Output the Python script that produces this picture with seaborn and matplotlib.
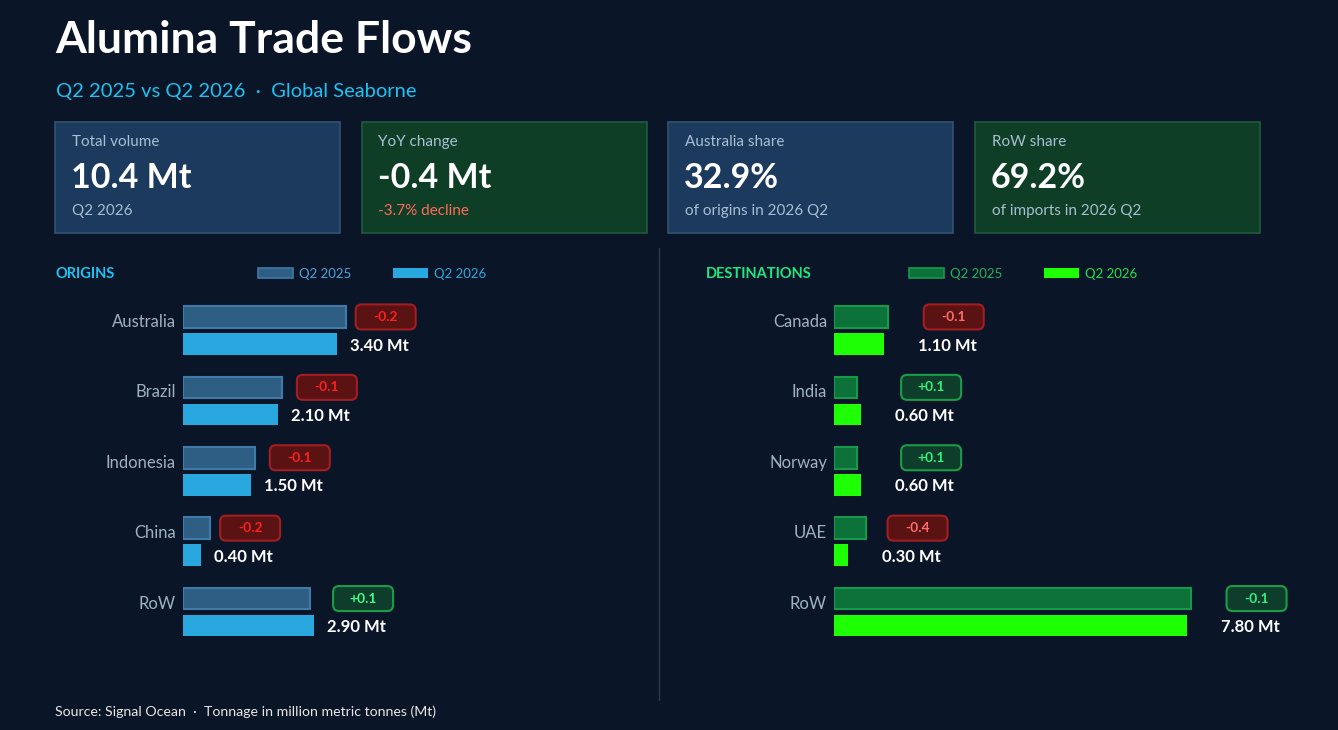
import numpy as np
import pandas as pd
import matplotlib
matplotlib.use("Agg")
import matplotlib.pyplot as plt
import seaborn as sns
from matplotlib.patches import FancyBboxPatch, Rectangle
from matplotlib.lines import Line2D

# data
origins = ["Australia", "Brazil", "Indonesia", "China", "RoW"]
origins_2025 = [3.6, 2.2, 1.6, 0.6, 2.8]
origins_2026 = [3.4, 2.1, 1.5, 0.4, 2.9]

destinations = ["Canada", "India", "Norway", "UAE", "RoW"]
dest_2025 = [1.2, 0.5, 0.5, 0.7, 7.9]
dest_2026 = [1.1, 0.6, 0.6, 0.3, 7.8]

quarters = ["Q2 2025", "Q2 2026"]

kpi_labels = ["Total volume", "YoY change", "Australia share", "RoW share"]
kpi_values = ["10.4 Mt", "-0.4 Mt", "32.9%", "69.2%"]
kpi_notes = ["Q2 2026", "-3.7% decline", "of origins in 2026 Q2", "of imports in 2026 Q2"]

# style
W, H = 1338, 730
BG = "#0b1528"
PX_PER_MT = 45.2
ROW_PX = 70.4
ROW0_PX = 330.5
AX_TOP, AX_BOT = 290, 650

sns.set_theme(style="white")
plt.rcParams["font.family"] = ["Lato", "DejaVu Sans"]


def fx(px):
    return px / W


def fy(py):
    return 1 - py / H


fig = plt.figure(figsize=(W / 100, H / 100), dpi=100)
fig.patch.set_facecolor(BG)

# header
fig.text(fx(55), fy(53), "Alumina Trade Flows", color="white", fontsize=32,
         fontweight="bold", va="baseline")
fig.text(fx(56), fy(97), "Q2 2025 vs Q2 2026  \u00b7  Global Seaborne", color="#1cc3f2",
         fontsize=14.5, va="baseline")

# kpi cards
card_fill = ["#1c3a5e", "#0e3f26", "#1c3a5e", "#0e3f26"]
card_edge = ["#34506e", "#1f5a3d", "#34506e", "#1f5a3d"]
note_colors = ["#a8bed3", "#ff6a5a", "#a8bed3", "#a8bed3"]
for k in range(4):
    left = 55 + k * 306.5
    fig.add_artist(Rectangle((fx(left), fy(233)), 285 / W, 111 / H, transform=fig.transFigure,
                             facecolor=card_fill[k], edgecolor=card_edge[k], linewidth=1.2))
    fig.text(fx(left + 17), fy(146), kpi_labels[k], color="#a8bed3", fontsize=11, va="baseline")
    fig.text(fx(left + 16), fy(188), kpi_values[k], color="white", fontsize=24.5,
             fontweight="bold", va="baseline")
    fig.text(fx(left + 17), fy(215), kpi_notes[k], color=note_colors[k], fontsize=11,
             va="baseline")

# divider
fig.add_artist(Line2D([fx(659), fx(659)], [fy(248), fy(700)], transform=fig.transFigure,
                      color="#2b3b4e", linewidth=1))

fig.text(fx(55), fy(716), "Source: Signal Ocean  \u00b7  Tonnage in million metric tonnes (Mt)",
         color="#e6e6e6", fontsize=10.2, va="baseline")


def panel(left_px, right_px, names, v25, v26, title, title_x, title_color, fills, edge25,
          legend_x, legend_colors, label_off_px, badge_text_colors):
    ax = fig.add_axes([fx(left_px), fy(AX_BOT), (right_px - left_px) / W, (AX_BOT - AX_TOP) / H])
    df = pd.DataFrame({
        "name": names * 2,
        "value": v25 + v26,
        "quarter": [quarters[0]] * len(names) + [quarters[1]] * len(names),
    })
    sns.barplot(data=df, y="name", x="value", hue="quarter", hue_order=quarters,
                palette=fills, orient="h", width=0.77, gap=0.2, saturation=1,
                errorbar=None, legend=False, ax=ax)
    for p in ax.containers[0]:
        p.set_edgecolor(edge25)
        p.set_linewidth(1.5)
    for p in ax.containers[1]:
        p.set_linewidth(0)

    ax.set_xlim(0, (right_px - left_px) / PX_PER_MT)
    ax.set_ylim((AX_BOT - ROW0_PX) / ROW_PX, (AX_TOP - ROW0_PX) / ROW_PX)
    ax.set_facecolor("none")
    for s in ax.spines.values():
        s.set_visible(False)
    ax.set_xticks([])
    ax.set_yticks(np.arange(len(names)) - 0.1925 + 3.5 / ROW_PX)
    ax.set_yticklabels(names)
    ax.tick_params(axis="y", length=0, pad=5, labelsize=12, labelcolor="#9fb2c4")
    ax.set_xlabel("")
    ax.set_ylabel("")

    # value labels and change badges
    bw = 60 / PX_PER_MT
    bh = 25 / ROW_PX
    for i, (a, b) in enumerate(zip(v25, v26)):
        lx = b + label_off_px / PX_PER_MT
        ax.text(lx, i + 0.1925 + 1.5 / ROW_PX, f"{b:.2f} Mt", color="white", fontsize=12,
                fontweight="bold", va="center", ha="left")
        delta = b - a
        good = delta / a >= -0.02
        if good:
            fc, ec, tc = "#0f3d2c", "#1c9c45", badge_text_colors[1]
        else:
            fc, ec, tc = "#5a1212", "#a11e22", badge_text_colors[0]
        bx = lx + 6 / PX_PER_MT
        by = i - 0.1925
        ax.add_patch(FancyBboxPatch((bx, by - bh / 2), bw, bh,
                                    boxstyle=f"round,pad=0,rounding_size={6 / PX_PER_MT}",
                                    mutation_aspect=PX_PER_MT / ROW_PX,
                                    facecolor=fc, edgecolor=ec, linewidth=1.5, clip_on=False))
        ax.text(bx + bw / 2, by, f"{delta:+.1f}", color=tc, fontsize=10,
                fontweight="bold", ha="center", va="center")

    # section title and legend
    fig.text(fx(title_x), fy(278), title, color=title_color, fontsize=10.5,
             fontweight="bold", va="baseline")
    for j in range(2):
        x0 = legend_x + j * 135
        fig.add_artist(Rectangle((fx(x0), fy(278)), 35 / W, 10 / H, transform=fig.transFigure,
                                 facecolor=fills[j], edgecolor=edge25 if j == 0 else fills[j],
                                 linewidth=1.2 if j == 0 else 0))
        fig.text(fx(x0 + 41), fy(278), quarters[j], color=legend_colors[j], fontsize=9.5,
                 va="baseline")
    return ax


panel(183, 650, origins, origins_2025, origins_2026, "ORIGINS", 55, "#1cc3f2",
      ["#2e5e84", "#29a8e0"], "#3f7aa8", 258, ["#4fa3d9", "#29a8e0"], 13,
      ["#ff1f1f", "#3dff85"])
panel(834, 1320, destinations, dest_2025, dest_2026, "DESTINATIONS", 706, "#1fe77e",
      ["#0c7239", "#1eff06"], "#16994a", 909, ["#1fb35a", "#22e04a"], 34,
      ["#ff6b6b", "#2ff07a"])

fig.savefig("out.png", dpi=100, facecolor=BG)
